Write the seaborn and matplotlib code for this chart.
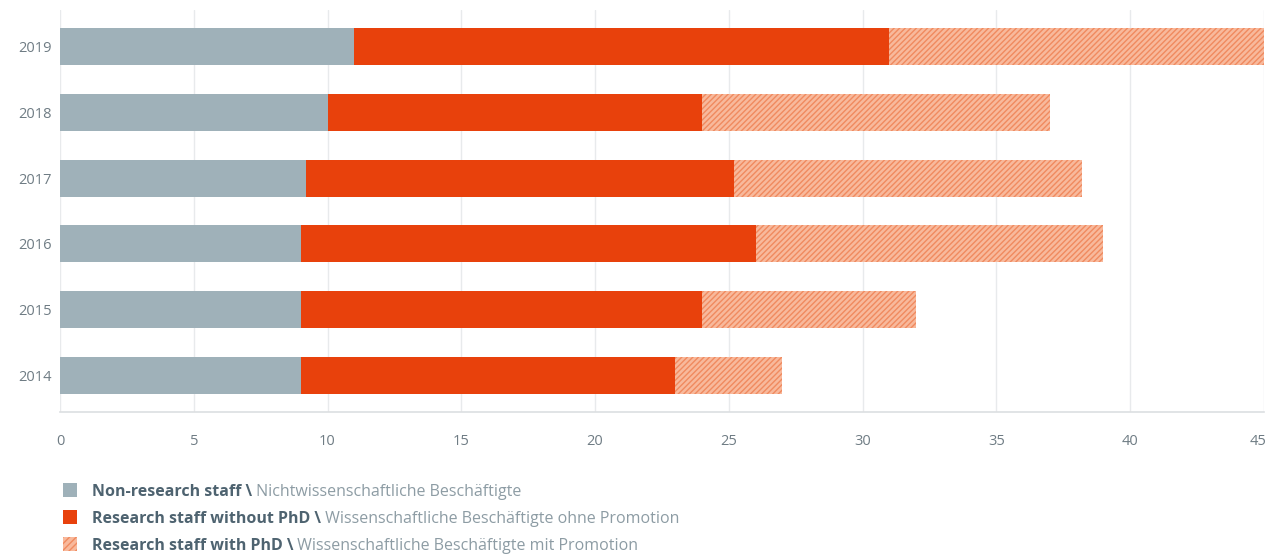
import pandas as pd
import numpy as np

import matplotlib
matplotlib.use("Agg")
import matplotlib.pyplot as plt
from matplotlib.patches import Rectangle
from matplotlib.transforms import ScaledTranslation
import seaborn as sns

# data
years = ["2019", "2018", "2017", "2016", "2015", "2014"]
non_research = [11, 10, 9.2, 9, 9, 9]
research_no_phd = [20, 14, 16, 17, 15, 14]
research_phd = [14, 13, 13, 13, 8, 4]

legend_bold = ["Non-research staff \\",
               "Research staff without PhD \\",
               "Research staff with PhD \\"]
legend_light = [" Nichtwissenschaftliche Beschäftigte",
                " Wissenschaftliche Beschäftigte ohne Promotion",
                " Wissenschaftliche Beschäftigte mit Promotion"]

GREY = "#9fb1b9"
RED = "#e8410c"
HATCH_FACE = "#f8b99c"
HATCH_LINE = "#f08a5f"

sns.set_style("white")
plt.rcParams["font.family"] = ["Open Sans", "DejaVu Sans"]
plt.rcParams["hatch.linewidth"] = 1.0

df = pd.DataFrame({"year": years,
                   "grey": non_research,
                   "red": research_no_phd,
                   "phd": research_phd})
# cumulative ends, drawn largest first so the shorter ones sit on top
df["end_grey"] = df["grey"]
df["end_red"] = df["grey"] + df["red"]
df["end_phd"] = df["end_red"] + df["phd"]

fig = plt.figure(figsize=(12.68, 5.54), dpi=100)
ax = fig.add_axes([0.0473, 0.2563, 0.9495, 0.7257])

bw = 0.56
sns.barplot(data=df, x="end_phd", y="year", order=years, orient="h",
            color=HATCH_FACE, saturation=1, width=bw, ax=ax,
            hatch="//////", edgecolor=HATCH_LINE, linewidth=0)
sns.barplot(data=df, x="end_red", y="year", order=years, orient="h",
            color=RED, saturation=1, width=bw, ax=ax, linewidth=0)
sns.barplot(data=df, x="end_grey", y="year", order=years, orient="h",
            color=GREY, saturation=1, width=bw, ax=ax, linewidth=0)

ax.set_xlim(0, 45)
ax.set_ylim(5.56, -0.56)
ax.set_xticks(np.arange(0, 46, 5))
ax.set_xlabel("")
ax.set_ylabel("")
ax.set_axisbelow(True)
ax.xaxis.grid(True, color="#e8eaec", linewidth=1)
ax.yaxis.grid(False)
for side in ["top", "right", "left"]:
    ax.spines[side].set_visible(False)
ax.spines["bottom"].set_color("#dcdfe1")
ax.spines["bottom"].set_linewidth(1.2)
ax.tick_params(axis="x", length=0, pad=16, labelsize=10.5, labelcolor="#6f7c84")
ax.tick_params(axis="y", length=0, pad=6, labelsize=10.5, labelcolor="#6f7c84")

# nudge the last tick label so "45" stays inside the picture
last = ax.get_xticklabels()[-1]
last.set_transform(last.get_transform() + ScaledTranslation(-6 / 100, 0, fig.dpi_scale_trans))

# legend: coloured squares plus two-weight labels
base_y = [0.1047, 0.0560, 0.0072]
square_y = [0.1029, 0.0542, 0.0054]
faces = [GREY, RED, HATCH_FACE]
hatches = [None, None, "/////"]
for i in range(3):
    sq = Rectangle((0.0497, square_y[i]), 0.011, 0.0253,
                   transform=fig.transFigure, facecolor=faces[i],
                   edgecolor=HATCH_LINE if hatches[i] else "none",
                   hatch=hatches[i], linewidth=0)
    fig.add_artist(sq)
    t = fig.text(0.0725, base_y[i], legend_bold[i], fontsize=11.5,
                 fontweight="bold", color="#4e6370", va="baseline", ha="left")
    ax.annotate(legend_light[i], xy=(1, 0), xycoords=t, fontsize=11.5,
                color="#8d9ca4", va="bottom", ha="left",
                annotation_clip=False)

fig.savefig("out.png", dpi=100)
